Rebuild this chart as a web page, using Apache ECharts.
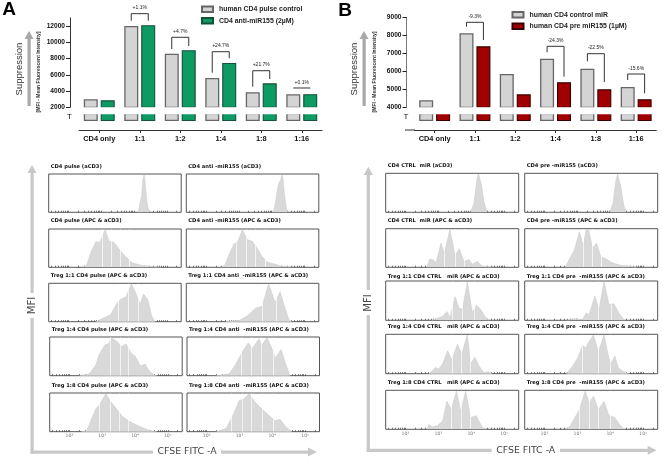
<!DOCTYPE html>
<html><head><meta charset="utf-8">
<style>html,body{margin:0;padding:0;background:#fff}#c{width:662px;height:460px}</style>
<script src="https://cdn.jsdelivr.net/npm/echarts@6/dist/echarts.min.js"></script>
</head><body><div id="c"></div>
<script>
// ---------- bar data ----------
const categories = ['CD4 only','1:1','1:2','1:4','1:8','1:16'];
const nameA1 = 'human CD4 pulse control', nameA2 = 'CD4 anti-miR155 (2µM)';
const nameB1 = 'human CD4 control miR', nameB2 = 'human CD4 pre miR155 (1µM)';
const barsA1 = [2985,12000,8600,5600,3850,3600];
const barsA2 = [2860,12100,9020,7450,4950,3620];
const barsB1 = [4389,8110,5850,6700,6145,5130];
const barsB2 = [3900,7390,4720,5390,5000,4445];
const tLevel = [1,1,1,1,1,1];
const ticksA = [2000,4000,6000,8000,10000,12000];
const ticksB = [4000,5000,6000,7000,8000,9000];
// bracket rows: category index, left leg end, bracket top, right leg end
const bracketsA = [[1,12660,13520,12660],[2,9175,10615,9540],[3,6260,8840,8030],[4,4535,6500,5480],[5,4375,4375,4375]];
const bracketTextA = ['+1.1%','+4.7%','+24.7%','+21.7%','+0.1%'];
const bracketsB = [[1,8478,8722,7740],[3,7055,7389,5700],[4,6555,6978,5405],[5,5517,5850,4778]];
const bracketTextB = ['-9.3%','-24.3%','-22.5%','-15.6%'];

// ---------- histogram data: [log10 CFSE, % of max] ----------
const hA11=[[4.11,0],[4.15,8],[4.19,28],[4.24,45],[4.27,85],[4.31,98],[4.35,70],[4.39,30],[4.44,6],[4.49,0]];
const hA12=[[4.03,0],[4.08,8],[4.13,30],[4.18,62],[4.23,78],[4.28,85],[4.31,98],[4.35,88],[4.39,48],[4.45,12],[4.49,0]];
const hA21=[[2.44,0],[2.55,4],[2.69,40],[2.84,67],[2.96,65],[3.12,98],[3.24,68],[3.39,65],[3.54,48],[3.74,28],[3.94,12],[4.24,5],[4.64,1],[4.84,0]];
const hA22=[[2.46,0],[2.58,6],[2.71,35],[2.86,62],[2.96,65],[3.11,98],[3.26,72],[3.41,68],[3.56,50],[3.71,28],[3.86,14],[4.11,8],[4.31,3],[4.41,3],[4.61,0]];
const hA31=[[2.84,0],[3.09,10],[3.29,18],[3.46,45],[3.59,58],[3.76,65],[3.92,98],[4.04,78],[4.19,45],[4.29,72],[4.42,58],[4.54,15],[4.64,0]];
const hA32=[[2.61,1],[3.01,3],[3.26,15],[3.51,35],[3.71,40],[3.91,98],[4.11,50],[4.26,78],[4.41,35],[4.53,5],[4.61,0]];
const hA41=[[2.31,0],[2.61,5],[2.81,28],[2.91,55],[3.09,80],[3.19,82],[3.29,98],[3.46,88],[3.59,75],[3.73,82],[3.86,60],[4.01,50],[4.16,25],[4.31,30],[4.41,15],[4.56,3],[4.66,0]];
const hA42=[[2.29,0],[2.69,5],[2.89,30],[3.09,62],[3.27,85],[3.39,70],[3.59,95],[3.69,80],[3.84,98],[3.99,70],[4.09,45],[4.27,68],[4.39,35],[4.54,0]];
const hA51=[[2.36,0],[2.53,2],[2.66,30],[2.81,60],[2.91,68],[3.11,98],[3.26,78],[3.41,62],[3.61,40],[3.86,25],[4.11,15],[4.36,6],[4.51,2],[4.66,0]];
const hA52=[[2.29,0],[2.59,8],[2.79,40],[2.99,80],[3.14,85],[3.29,98],[3.49,75],[3.79,50],[4.09,28],[4.24,32],[4.39,15],[4.59,0]];
const hB11=[[3.98,0],[4.08,22],[4.18,90],[4.22,98],[4.31,70],[4.38,28],[4.48,0]];
const hB12=[[3.99,0],[4.09,25],[4.16,78],[4.22,98],[4.31,70],[4.41,18],[4.48,0]];
const hB21=[[2.65,0],[2.73,20],[2.83,20],[2.93,12],[3.08,62],[3.18,35],[3.35,98],[3.51,30],[3.63,48],[3.78,15],[3.93,20],[4.03,8],[4.18,15],[4.33,3],[4.48,2],[4.63,0]];
const hB22=[[2.64,0],[2.76,22],[2.91,45],[3.06,92],[3.18,55],[3.26,95],[3.34,98],[3.46,50],[3.58,62],[3.71,28],[3.86,22],[4.06,12],[4.31,5],[4.56,3],[4.81,0]];
const hB31=[[2.78,0],[2.93,3],[3.13,10],[3.26,22],[3.36,8],[3.51,60],[3.63,30],[3.73,28],[3.88,98],[4.03,20],[4.16,38],[4.28,28],[4.43,8],[4.53,0]];
const hB32=[[2.66,0],[2.91,3],[3.16,2],[3.26,18],[3.36,15],[3.53,62],[3.66,28],[3.81,98],[3.96,40],[4.11,42],[4.26,18],[4.43,0]];
const hB41=[[2.71,0],[2.83,8],[2.91,16],[3.01,12],[3.13,25],[3.28,58],[3.41,35],[3.58,75],[3.71,50],[3.88,98],[3.98,25],[4.11,42],[4.23,20],[4.38,3],[4.43,0],[4.53,5],[4.63,0]];
const hB42=[[2.68,0],[2.86,20],[3.01,40],[3.16,72],[3.26,65],[3.34,80],[3.49,98],[3.64,55],[3.81,98],[3.96,38],[4.04,28],[4.14,45],[4.24,15],[4.41,5],[4.56,0]];
const hB51=[[2.66,0],[2.71,12],[2.83,6],[2.98,10],[3.13,22],[3.26,72],[3.39,50],[3.55,98],[3.68,45],[3.83,98],[3.98,30],[4.15,35],[4.33,5],[4.45,0]];
const hB52=[[2.66,0],[2.78,8],[2.91,28],[3.06,50],[3.14,72],[3.24,98],[3.36,68],[3.49,85],[3.64,50],[3.81,72],[3.96,35],[4.14,30],[4.26,15],[4.41,0]];
// white gate lines inside the histograms (log10 CFSE)
const gatesA = [[[],[]],[[3.02,3.30,3.57,3.85],[2.93,3.22,3.5,3.8]],[[3.52,3.82,4.14],[3.71,4.13]],[[3.24,3.54,3.81],[3.06,3.36,3.66,4.04]],[[2.92,3.24,3.52,3.79],[2.74,3.07,3.36,3.69,4.04]]];
const gatesB = [[[],[]],[[3.18,3.51,3.78],[3.18,3.46,3.74]],[[3.43,3.73,4.08],[3.64,4.03]],[[3.41,3.71,3.98],[3.16,3.64,4.01]],[[3.38,3.71,3.98],[3.06,3.36,3.64,4.01]]];
const histA = [[hA11,hA12],[hA21,hA22],[hA31,hA32],[hA41,hA42],[hA51,hA52]];
const histB = [[hB11,hB12],[hB21,hB22],[hB31,hB32],[hB41,hB42],[hB51,hB52]];
const titlesA = [
 ['CD4 pulse (aCD3)','CD4 anti -miR155 (aCD3)'],
 ['CD4 pulse (APC & aCD3)','CD4 anti -miR155 (APC & aCD3)'],
 ['Treg 1:1 CD4 pulse (APC & aCD3)','Treg 1:1 CD4 anti  -miR155 (APC & aCD3)'],
 ['Treg 1:4 CD4 pulse (APC & aCD3)','Treg 1:4 CD4 anti  -miR155 (APC & aCD3)'],
 ['Treg 1:8 CD4 pulse (APC & aCD3)','Treg 1:8 CD4 anti  -miR155 (APC & aCD3)']];
const titlesB = [
 ['CD4 CTRL  miR (aCD3)','CD4 pre -miR155 (aCD3)'],
 ['CD4 CTRL  miR (APC & aCD3)','CD4 pre -miR155 (APC & aCD3)'],
 ['Treg 1:1 CD4 CTRL   miR (APC & aCD3)','Treg 1:1 CD4 pre  -miR155 (APC & aCD3)'],
 ['Treg 1:4 CD4 CTRL   miR (APC & aCD3)','Treg 1:4 CD4 pre  -miR155 (APC & aCD3)'],
 ['Treg 1:8 CD4 CTRL   miR (APC & aCD3)','Treg 1:8 CD4 pre  -miR155 (APC & aCD3)']];
const decadeTicks = [2,3,4,5];
const decadeLabels = {2:'10²',3:'10³',4:'10⁴',5:'10⁵'};

// ---------- assembly ----------
const AR = '"Liberation Sans",Arial,sans-serif', DV = '"DejaVu Sans",Verdana,sans-serif';
const grid=[],xAxis=[],yAxis=[],series=[],title=[],graphic=[],legend=[];
const minorTicks=[];
[1,2,3,4,5].forEach(d=>[1,2,3,4,5,6,7,8,9].forEach(m=>{const v=d+Math.log10(m);if(v>1.45&&v<5.4)minorTicks.push(v);}));

function barPanel(p){
  const i0=grid.length;
  grid.push({left:p.left,top:p.top,width:p.width,height:p.height});
  grid.push({left:p.left,top:113,width:p.width,height:8});
  xAxis.push({type:'category',gridIndex:i0,data:categories,show:false});
  xAxis.push({type:'category',gridIndex:i0+1,data:categories,offset:9,position:'bottom',
    axisLine:{show:true,onZero:false,lineStyle:{color:'#333',width:1}},
    axisTick:{show:true,alignWithLabel:true,length:3,lineStyle:{color:'#333'}},
    axisLabel:{show:true,interval:0,margin:5,fontFamily:AR,fontWeight:'bold',fontSize:7.4,color:'#111'}});
  yAxis.push({type:'value',gridIndex:i0,min:p.min,max:p.max,offset:p.yOffset,splitLine:{show:false},
    axisLine:{show:true,lineStyle:{color:p.axisColor,width:1}},
    axisTick:{show:true,length:4,customValues:p.ticks,lineStyle:{color:'#222'}},
    axisLabel:{show:true,customValues:p.ticks,margin:5,fontFamily:AR,fontWeight:'bold',fontSize:6.6,color:'#111',formatter:v=>String(v)}});
  yAxis.push({type:'value',gridIndex:i0+1,min:0,max:1,splitLine:{show:false},
    axisLine:{show:false},axisTick:{show:false},
    axisLabel:{show:true,customValues:[0.5],margin:p.tMargin,fontFamily:AR,fontSize:8,color:'#111',formatter:()=>'T'}});
  const style=(f,b,w)=>({color:f,borderColor:b,borderWidth:w});
  const mk=(name,data,ax,st)=>({type:'bar',name,data,xAxisIndex:ax,yAxisIndex:ax,barWidth:14,barGap:'21%',itemStyle:st,silent:true,animation:false,clip:true});
  const s1=style('#d4d4d4','#666',1.3), s2=style(p.color,p.edge,1.1);
  series.push(mk(p.names[0],p.b1,i0,s1),mk(p.names[1],p.b2,i0,s2));
  series.push(mk(p.names[0],tLevel,i0+1,s1),mk(p.names[1],tLevel,i0+1,s2));
  series.push({type:'custom',xAxisIndex:i0,yAxisIndex:i0,data:p.brackets,silent:true,animation:false,z:5,
    renderItem:(params,api)=>{
      const c=api.value(0), d=api.size([1,0])[0]*0.21;
      const t=api.coord([c,api.value(2)]), l=api.coord([c,api.value(1)]), r=api.coord([c,api.value(3)]);
      return {type:'group',children:[
        {type:'polyline',shape:{points:[[t[0]-d,l[1]],[t[0]-d,t[1]],[t[0]+d,t[1]],[t[0]+d,r[1]]]},style:{fill:null,stroke:'#333',lineWidth:1}},
        {type:'text',x:t[0],y:t[1]-5.7,style:{text:p.bracketText[params.dataIndex],fill:'#222',font:'5px '+AR,align:'center',verticalAlign:'middle'}}
      ]};
    }});
  legend.push({data:p.names.map(n=>({name:n,icon:'rect'})),orient:'vertical',left:p.legendLeft,top:p.legendTop,itemWidth:11,itemHeight:5.5,itemGap:4,selectedMode:false,padding:0,
    textStyle:{fontFamily:AR,fontWeight:'bold',fontSize:6.9,color:'#222',padding:[0,0,0,1]}});
  // white break between the two parts of the bars
  graphic.push({type:'rect',z:100,shape:{x:p.left,y:107.2,width:p.width,height:7},style:{fill:'#fff'}});
}
barPanel({left:79,top:17.9,width:243,height:89.4,min:2000,max:13000,yOffset:9,axisColor:'#333',tMargin:7,ticks:ticksA,b1:barsA1,b2:barsA2,
  names:[nameA1,nameA2],color:'#0e9b63',edge:'#14503a',brackets:bracketsA,bracketText:bracketTextA,legendLeft:201,legendTop:5.5});
barPanel({left:414.5,top:17.3,width:241.8,height:90,min:4000,max:9000,yOffset:8,axisColor:'#777',tMargin:6,ticks:ticksB,b1:barsB1,b2:barsB2,
  names:[nameB1,nameB2],color:'#a00000',edge:'#3a0000',brackets:bracketsB,bracketText:bracketTextB,legendLeft:511.5,legendTop:11});

function histPanel(data,gates,titles,cols,rows,titleY,w){
  rows.forEach((rw,r)=>cols.forEach((cx,c)=>{
    const i=grid.length;
    grid.push({show:true,left:cx[r],top:rw[0],width:w,height:rw[1]-rw[0],borderColor:'#555',borderWidth:1,backgroundColor:'#fff'});
    xAxis.push({type:'value',gridIndex:i,min:1.4,max:5.44,splitLine:{show:false},axisLine:{show:false},
      axisTick:{show:true,inside:true,length:1.6,customValues:minorTicks,lineStyle:{color:'#444',width:0.7}},
      axisLabel:{show:r===4,customValues:decadeTicks,margin:2,fontFamily:DV,fontSize:4.6,color:'#777',formatter:v=>decadeLabels[v]||''}});
    yAxis.push({type:'value',gridIndex:i,min:0,max:100,show:false});
    series.push({type:'line',xAxisIndex:i,yAxisIndex:i,data:data[r][c],showSymbol:false,silent:true,animation:false,
      lineStyle:{color:'#cdcdcd',width:0.6},areaStyle:{color:'#d9d9d9',opacity:1},
      markLine:{silent:true,animation:false,symbol:'none',label:{show:false},lineStyle:{color:'#fff',width:0.8,type:'solid',opacity:0.85},
        data:gates[r][c].map(v=>[{coord:[v,1]},{coord:[v,99]}])}});
    title.push({text:titles[r][c],left:cx[r]+2,top:titleY[r]-3,padding:0,textStyle:{fontFamily:DV,fontWeight:'bold',fontSize:5.2,color:'#111'}});
  }));
}
const colsA=[[48.7,48.7,48.7,49.7,49.7],[186.3,186.3,186.3,187,187]];
const colsB=[[385.7,385.7,385.7,385.7,385.7],[524.7,524.7,524.7,524.7,524.7]];
histPanel(histA,gatesA,titlesA,colsA,[[174,212.3],[229,267.3],[283.3,321.7],[337,375.7],[393,431.7]],[167,221.3,276,329.7,385.7],132.5);
histPanel(histB,gatesB,titlesB,colsB,[[173.3,212.3],[228.7,267.3],[281,320.3],[334.3,373.7],[390.3,429.3]],[166,221,277,327.3,383],133);

// ---------- decoration text and arrows ----------
const txt=(text,x,y,font,fill,rot,extra)=>({type:'text',z:101,x,y,rotation:rot||0,style:Object.assign({text,font,fill,align:'center',verticalAlign:'middle'},extra||{})});
const rect=(x,y,w,h,fill)=>({type:'rect',z:50,shape:{x,y,width:w,height:h},style:{fill}});
const poly=(pts,fill)=>({type:'polygon',z:50,shape:{points:pts},style:{fill}});
const up=Math.PI/2;
graphic.push(
  txt('A',9,10,'bold 19px '+AR,'#000'), txt('B',345,11,'bold 19px '+AR,'#000'),
  txt('Suppression',19,69,'9.5px '+AR,'#333',up), txt('Suppression',354,69,'9.5px '+AR,'#333',up),
  txt('[MFI - Mean Fluorescent Intensity]',39,72,'bold 5px '+AR,'#333',up),
  txt('[MFI - Mean Fluorescent Intensity]',375,72,'bold 5px '+AR,'#333',up),
  rect(27.5,38,3.2,68,'#a8a8a8'), poly([[29,31],[24.5,39],[33.5,39]],'#a8a8a8'),
  rect(362.5,38,3.2,68,'#a8a8a8'), poly([[364,31],[359.5,39],[368.5,39]],'#a8a8a8'),
  {type:'line',z:20,shape:{x1:405,y1:130,x2:415,y2:130},style:{stroke:'#333',lineWidth:1}},
  // panel A big axes
  rect(30.5,172,3.2,121,'#c8c8c8'), rect(30.5,318,3.2,135.5,'#c8c8c8'), poly([[32,165],[27.5,173],[36.5,173]],'#c8c8c8'),
  rect(30.5,450.5,122.5,3.2,'#c8c8c8'), rect(221,450.5,88,3.2,'#c8c8c8'), poly([[317,452],[308,447.5],[308,456.5]],'#c8c8c8'),
  txt('MFI',32,305.5,'10px '+DV,'#444',up), txt('CFSE FITC -A',187,452,'9.4px '+DV,'#444'),
  // panel B big axes
  rect(366.7,174,3.2,116,'#c8c8c8'), rect(366.7,315,3.2,136.5,'#c8c8c8'), poly([[368.3,166.7],[363.8,175],[372.8,175]],'#c8c8c8'),
  rect(366.7,448.7,125,3.2,'#c8c8c8'), rect(560,448.7,88,3.2,'#c8c8c8'), poly([[656.7,450.3],[647.7,445.8],[647.7,454.8]],'#c8c8c8'),
  txt('MFI',368.3,303,'10px '+DV,'#444',up), txt('CFSE FITC -A',525.7,450.3,'9.4px '+DV,'#444')
);

const chart=echarts.init(document.getElementById('c'),null,{renderer:'canvas'});
chart.setOption({animation:false,backgroundColor:'#fff',grid,xAxis,yAxis,series,title,legend,graphic:{elements:graphic}});
</script></body></html>
